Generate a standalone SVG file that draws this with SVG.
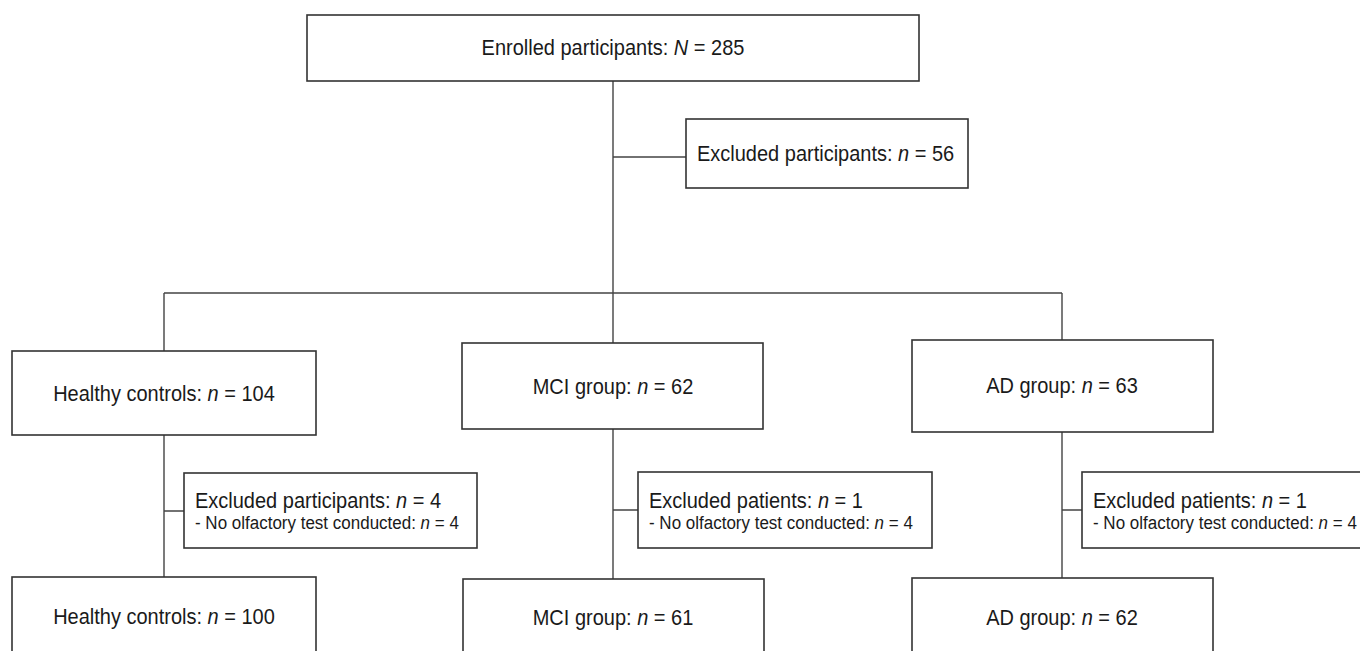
<svg xmlns="http://www.w3.org/2000/svg" width="1360" height="651" viewBox="0 0 1360 651">
<style>
.box{fill:#fff;stroke:#333;stroke-width:1.6}
.ln{fill:none;stroke:#444;stroke-width:1.4}
text{font-family:"Liberation Sans",Arial,sans-serif;fill:#1a1a1a}
.m{font-size:20px}
.s{font-size:17px}
.c{text-anchor:middle}
</style>
<rect width="1360" height="651" fill="#fff"/>
<g id="connectors">
<path class="ln" d="M613 81V343M613 157H686M164 293H1062M164 293V351M1062 293V340"/>
<path class="ln" d="M164 435V577M164 511H184"/>
<path class="ln" d="M613 429V579M613 510H638"/>
<path class="ln" d="M1062 432V578M1062 510H1082"/>
</g>
<g id="enrolled"><rect class="box" x="307" y="15" width="612" height="66"/><text class="m c" transform="translate(613 55) scale(1 1.12)">Enrolled participants: <tspan font-style="italic">N</tspan> = 285</text></g>
<g id="excluded56"><rect class="box" x="686" y="119" width="282" height="69"/><text class="m" transform="translate(697 161) scale(1 1.12)">Excluded participants: <tspan font-style="italic">n</tspan> = 56</text></g>
<g id="hc104"><rect class="box" x="12" y="351" width="304" height="84"/><text class="m c" transform="translate(164 401) scale(1 1.12)">Healthy controls: <tspan font-style="italic">n</tspan> = 104</text></g>
<g id="mci62"><rect class="box" x="462" y="343" width="301" height="86"/><text class="m c" transform="translate(613 394) scale(1 1.12)">MCI group: <tspan font-style="italic">n</tspan> = 62</text></g>
<g id="ad63"><rect class="box" x="912" y="340" width="301" height="92"/><text class="m c" transform="translate(1062 393) scale(1 1.12)">AD group: <tspan font-style="italic">n</tspan> = 63</text></g>
<g id="hcExcl"><rect class="box" x="184" y="473" width="293" height="75"/><text class="m" transform="translate(195 508) scale(1 1.12)">Excluded participants: <tspan font-style="italic">n</tspan> = 4</text><text class="s" transform="translate(195 529) scale(1 1.12)">- No olfactory test conducted: <tspan font-style="italic">n</tspan> = 4</text></g>
<g id="mciExcl"><rect class="box" x="638" y="472" width="294" height="76"/><text class="m" transform="translate(649 508) scale(1 1.12)">Excluded patients: <tspan font-style="italic">n</tspan> = 1</text><text class="s" transform="translate(649 529) scale(1 1.12)">- No olfactory test conducted: <tspan font-style="italic">n</tspan> = 4</text></g>
<g id="adExcl"><rect class="box" x="1082" y="472" width="294" height="76"/><text class="m" transform="translate(1093 508) scale(1 1.12)">Excluded patients: <tspan font-style="italic">n</tspan> = 1</text><text class="s" transform="translate(1093 529) scale(1 1.12)">- No olfactory test conducted: <tspan font-style="italic">n</tspan> = 4</text></g>
<g id="hc100"><rect class="box" x="12" y="577" width="304" height="84"/><text class="m c" transform="translate(164 624) scale(1 1.12)">Healthy controls: <tspan font-style="italic">n</tspan> = 100</text></g>
<g id="mci61"><rect class="box" x="463" y="579" width="301" height="84"/><text class="m c" transform="translate(613 625) scale(1 1.12)">MCI group: <tspan font-style="italic">n</tspan> = 61</text></g>
<g id="ad62"><rect class="box" x="912" y="578" width="301" height="84"/><text class="m c" transform="translate(1062 625) scale(1 1.12)">AD group: <tspan font-style="italic">n</tspan> = 62</text></g>
</svg>
